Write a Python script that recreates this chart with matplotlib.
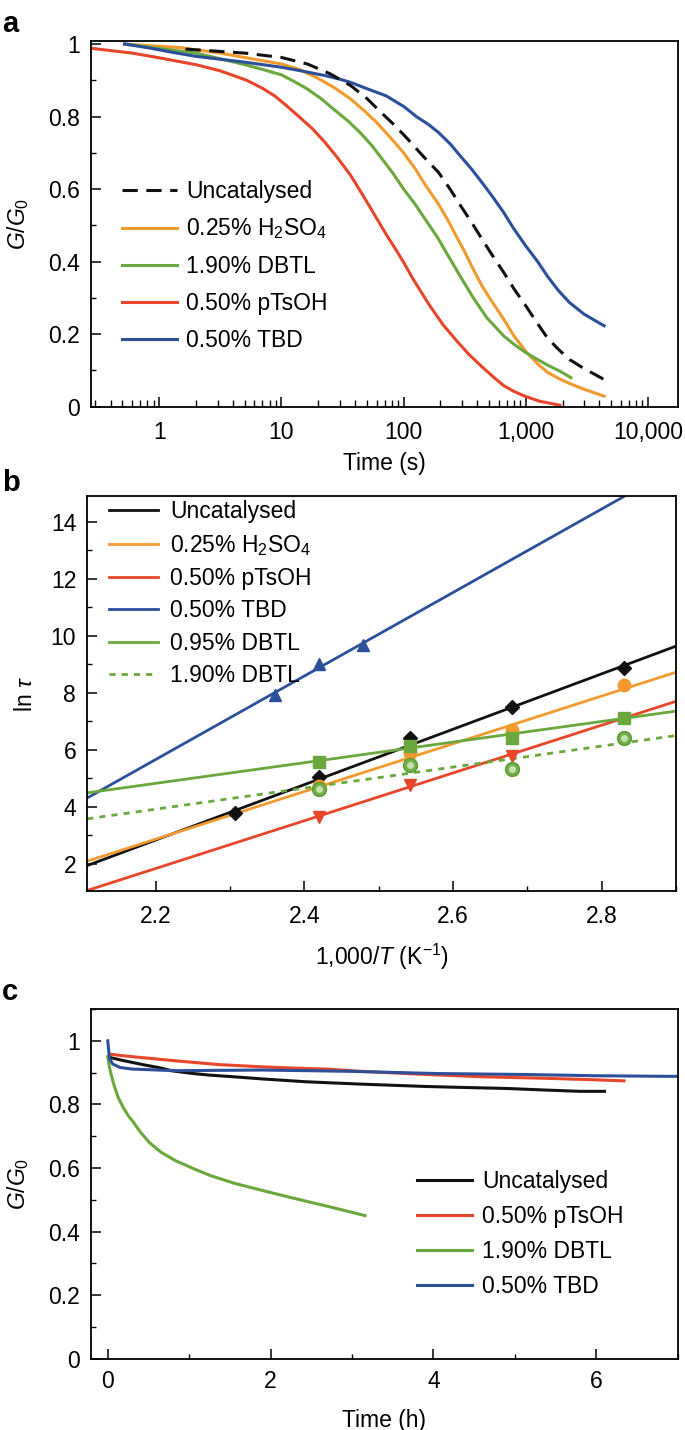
import numpy as np
import matplotlib
matplotlib.use('Agg')
import matplotlib.pyplot as plt
from matplotlib.ticker import FuncFormatter, MultipleLocator, LogLocator

plt.rcParams['font.family'] = ['Liberation Sans', 'DejaVu Sans']
plt.rcParams['mathtext.fontset'] = 'custom'
plt.rcParams['mathtext.rm'] = 'Liberation Sans'
plt.rcParams['mathtext.it'] = 'Liberation Sans:italic'
plt.rcParams['font.size'] = 16.5

# ---------------- panel a: G/G0 vs time (log) ----------------
a_unc_t = [1.64, 5, 10, 16.3, 25, 37, 50, 66, 85, 108, 145, 193, 240, 290, 360, 438, 540, 660, 800, 1000, 1230, 1500, 1850, 2280, 3000, 4370]
a_unc_g = [0.986, 0.975, 0.963, 0.945, 0.918, 0.885, 0.85, 0.81, 0.775, 0.738, 0.69, 0.646, 0.6, 0.556, 0.508, 0.462, 0.414, 0.37, 0.325, 0.278, 0.232, 0.19, 0.158, 0.13, 0.105, 0.075]

a_h2so4_t = [0.52, 1.5, 3.16, 6, 10, 14, 19.3, 27, 37, 48, 60, 78, 100, 125, 150, 190, 228, 270, 316, 370, 438, 540, 660, 800, 1000, 1250, 1500, 1850, 2280, 3000, 4370]
a_h2so4_g = [1.0, 0.99, 0.975, 0.958, 0.945, 0.93, 0.908, 0.88, 0.848, 0.815, 0.784, 0.742, 0.70, 0.655, 0.612, 0.562, 0.517, 0.47, 0.427, 0.38, 0.333, 0.285, 0.241, 0.195, 0.152, 0.118, 0.095, 0.078, 0.064, 0.048, 0.029]

a_dbtl_t = [0.52, 2, 4.77, 7, 10, 13, 16.3, 21, 26.8, 35, 44, 55, 66, 82, 100, 125, 150, 190, 228, 290, 372, 480, 660, 800, 1000, 1250, 1500, 1900, 2340]
a_dbtl_g = [1.0, 0.975, 0.945, 0.93, 0.915, 0.895, 0.876, 0.85, 0.82, 0.788, 0.756, 0.72, 0.685, 0.643, 0.60, 0.557, 0.517, 0.466, 0.42, 0.36, 0.3, 0.245, 0.195, 0.172, 0.149, 0.13, 0.115, 0.098, 0.08]

a_ptsoh_t = [0.28, 0.6, 1, 2, 3.16, 5.2, 7, 8.8, 11, 13.9, 18, 22.7, 29, 37, 47, 60, 72, 85, 100, 118, 140, 164, 210, 268, 340, 438, 550, 660, 800, 1000, 1300, 1900]
a_ptsoh_g = [0.988, 0.975, 0.962, 0.943, 0.926, 0.9, 0.878, 0.857, 0.83, 0.80, 0.766, 0.729, 0.685, 0.637, 0.58, 0.52, 0.475, 0.437, 0.398, 0.355, 0.315, 0.278, 0.226, 0.184, 0.145, 0.11, 0.08, 0.058, 0.042, 0.028, 0.015, 0.004]

a_tbd_t = [0.52, 0.8, 1.39, 2, 3.16, 5, 10, 15, 22.7, 30, 37, 50, 72, 100, 127, 160, 193, 240, 290, 360, 438, 540, 660, 800, 1000, 1250, 1500, 1850, 2280, 3000, 4370]
a_tbd_g = [1.0, 0.99, 0.975, 0.966, 0.958, 0.95, 0.936, 0.925, 0.913, 0.903, 0.894, 0.877, 0.857, 0.828, 0.80, 0.778, 0.756, 0.725, 0.692, 0.655, 0.618, 0.577, 0.535, 0.49, 0.443, 0.4, 0.36, 0.32, 0.287, 0.255, 0.223]

# ---------------- panel b: ln tau vs 1000/T ----------------
b_unc_x = [2.307, 2.42, 2.542, 2.68, 2.83]
b_unc_y = [3.78, 5.03, 6.41, 7.49, 8.87]
b_h2so4_x = [2.42, 2.542, 2.68, 2.83]
b_h2so4_y = [4.72, 5.88, 6.70, 8.26]
b_ptsoh_x = [2.42, 2.542, 2.68]
b_ptsoh_y = [3.64, 4.74, 5.77]
b_tbd_x = [2.36, 2.42, 2.479]
b_tbd_y = [7.93, 9.0, 9.66]
b_dbtl95_x = [2.42, 2.542, 2.68, 2.83]
b_dbtl95_y = [5.57, 6.14, 6.39, 7.12]
b_dbtl190_x = [2.42, 2.542, 2.68, 2.83]
b_dbtl190_y = [4.62, 5.47, 5.32, 6.41]

# linear fits (slope, intercept) for each series
fit_slope = [9.72, 8.37, 8.38, 14.65, 3.62, 3.69]
fit_intercept = [-18.56, -15.56, -16.61, -26.58, -3.15, -4.21]

# ---------------- panel c: stress relaxation in hours ----------------
c_unc_t = [0.02, 0.15, 0.3, 0.45, 0.62, 0.8, 1.05, 1.25, 1.48, 1.9, 2.44, 3.08, 3.5, 3.94, 4.4, 4.9, 5.38, 5.8, 6.1]
c_unc_g = [0.948, 0.94, 0.932, 0.924, 0.916, 0.905, 0.897, 0.892, 0.888, 0.88, 0.871, 0.864, 0.86, 0.856, 0.853, 0.85, 0.845, 0.841, 0.841]
c_ptsoh_t = [0.02, 0.15, 0.3, 0.55, 0.83, 1.1, 1.37, 1.9, 2.3, 2.7, 3.1, 3.5, 4.0, 4.58, 5.38, 5.9, 6.34]
c_ptsoh_g = [0.958, 0.954, 0.95, 0.944, 0.937, 0.931, 0.925, 0.918, 0.914, 0.911, 0.904, 0.899, 0.893, 0.887, 0.882, 0.878, 0.874]
c_dbtl_t = [0.0, 0.015, 0.03, 0.055, 0.086, 0.13, 0.19, 0.25, 0.3, 0.4, 0.51, 0.65, 0.83, 1.05, 1.26, 1.55, 1.9, 2.2, 2.44, 2.8, 3.16]
c_dbtl_g = [0.95, 0.925, 0.906, 0.88, 0.853, 0.82, 0.79, 0.765, 0.749, 0.713, 0.68, 0.65, 0.623, 0.598, 0.576, 0.552, 0.529, 0.51, 0.495, 0.473, 0.45]
c_tbd_t = [0.0, 0.02, 0.06, 0.15, 0.3, 0.83, 1.9, 2.97, 4.04, 5.1, 6.0, 7.0]
c_tbd_g = [1.0, 0.945, 0.927, 0.916, 0.911, 0.906, 0.908, 0.904, 0.897, 0.894, 0.89, 0.888]

BLACK = '#111111'
ORANGE = '#f29a2e'
GREEN = '#6aa83e'
RED = '#e8462a'
BLUE = '#2b4f99'


def style_axes(ax):
    for s in ax.spines.values():
        s.set_linewidth(1.3)
    ax.tick_params(which='major', direction='in', length=7, width=1.1, pad=8)
    ax.tick_params(which='minor', direction='in', length=3.5, width=1.0)
    ax.tick_params(top=False, right=False)


def num_fmt(v, pos):
    if v >= 1000:
        return '{:,.0f}'.format(v)
    return '{:g}'.format(v)


fig = plt.figure(figsize=(6.85, 14.30), dpi=100)

# ---- a ----
ax1 = fig.add_axes([0.1324, 0.7156, 0.857, 0.2559])
ax1.plot(a_unc_t, a_unc_g, color=BLACK, lw=2.2, ls=(0, (5, 2.8)), label='Uncatalysed', zorder=3)
ax1.plot(a_h2so4_t, a_h2so4_g, color=ORANGE, lw=2.2, label='0.25% H$_2$SO$_4$')
ax1.plot(a_dbtl_t, a_dbtl_g, color=GREEN, lw=2.2, label='1.90% DBTL')
ax1.plot(a_ptsoh_t, a_ptsoh_g, color=RED, lw=2.2, label='0.50% pTsOH')
ax1.plot(a_tbd_t, a_tbd_g, color=BLUE, lw=2.2, label='0.50% TBD')
ax1.set_xscale('log')
ax1.set_xlim(0.275, 17500)
ax1.set_ylim(0, 1.009)
ax1.xaxis.set_major_locator(LogLocator(base=10, numticks=10))
ax1.xaxis.set_minor_locator(LogLocator(base=10, subs=np.arange(2, 10), numticks=20))
ax1.xaxis.set_major_formatter(FuncFormatter(num_fmt))
ax1.yaxis.set_major_locator(MultipleLocator(0.2))
ax1.yaxis.set_minor_locator(MultipleLocator(0.1))
ax1.yaxis.set_major_formatter(FuncFormatter(num_fmt))
style_axes(ax1)
ax1.tick_params(axis='x', which='minor', length=5)
ax1.tick_params(axis='x', which='major', pad=10)
ax1.set_xlabel('Time (s)', labelpad=6)
ax1.set_ylabel('$G$/$G_0$', labelpad=12)
ax1.legend(loc='upper left', bbox_to_anchor=(0.038, 0.645), frameon=False,
           handlelength=2.4, handletextpad=0.4, labelspacing=0.6, borderaxespad=0)

# ---- b ----
ax2 = fig.add_axes([0.1274, 0.3766, 0.8594, 0.2766])
xlim_b = np.array([2.108, 2.9])
labels_b = ['Uncatalysed', '0.25% H$_2$SO$_4$', '0.50% pTsOH', '0.50% TBD', '0.95% DBTL', '1.90% DBTL']
colors_b = [BLACK, ORANGE, RED, BLUE, GREEN, GREEN]
styles_b = ['-', '-', '-', '-', '-', (0, (2.2, 2.2))]
for k in range(6):
    ax2.plot(xlim_b, fit_slope[k] * xlim_b + fit_intercept[k], color=colors_b[k],
             lw=2.0, ls=styles_b[k], label=labels_b[k])
ax2.plot(b_unc_x, b_unc_y, 'D', color=BLACK, ms=7, zorder=4)
ax2.plot(b_h2so4_x, b_h2so4_y, 'o', color=ORANGE, ms=9, zorder=4)
ax2.plot(b_ptsoh_x, b_ptsoh_y, 'v', color=RED, ms=8, zorder=4)
ax2.plot(b_tbd_x, b_tbd_y, '^', color=BLUE, ms=8, zorder=4)
ax2.plot(b_dbtl95_x, b_dbtl95_y, 's', color=GREEN, ms=9, zorder=5)
ax2.plot(b_dbtl190_x, b_dbtl190_y, 'o', mfc='#74b04a', mec='#5b9a32', mew=1.0, ms=10, zorder=6)
ax2.plot(b_dbtl190_x, b_dbtl190_y, 'o', color='#c4e3b0', ms=4, zorder=7)
ax2.set_xlim(*xlim_b)
ax2.set_ylim(1.02, 14.9)
ax2.xaxis.set_major_locator(MultipleLocator(0.2))
ax2.xaxis.set_minor_locator(MultipleLocator(0.1))
ax2.yaxis.set_major_locator(MultipleLocator(2))
ax2.yaxis.set_minor_locator(MultipleLocator(1))
ax2.xaxis.set_major_formatter(FuncFormatter(lambda v, p: '{:.1f}'.format(v)))
style_axes(ax2)
ax2.tick_params(axis='x', which='major', pad=10)
ax2.set_xlabel('1,000/$T$ (K$^{-1}$)', labelpad=10)
ax2.set_ylabel(r'ln $\tau$', labelpad=10)
ax2.legend(loc='upper left', bbox_to_anchor=(0.022, 1.012), frameon=False,
           handlelength=2.1, handletextpad=0.55, labelspacing=0.41, borderaxespad=0)

# ---- c ----
ax3 = fig.add_axes([0.1324, 0.0499, 0.857, 0.2445])
ax3.plot(c_unc_t, c_unc_g, color=BLACK, lw=2.2, label='Uncatalysed')
ax3.plot(c_ptsoh_t, c_ptsoh_g, color=RED, lw=2.2, label='0.50% pTsOH')
ax3.plot(c_dbtl_t, c_dbtl_g, color=GREEN, lw=2.2, label='1.90% DBTL')
ax3.plot(c_tbd_t, c_tbd_g, color=BLUE, lw=2.2, label='0.50% TBD')
ax3.set_xlim(-0.21, 7.0)
ax3.set_ylim(0, 1.1)
ax3.xaxis.set_major_locator(MultipleLocator(2))
ax3.xaxis.set_minor_locator(MultipleLocator(1))
ax3.yaxis.set_major_locator(MultipleLocator(0.2))
ax3.yaxis.set_minor_locator(MultipleLocator(0.1))
ax3.yaxis.set_major_formatter(FuncFormatter(num_fmt))
style_axes(ax3)
ax3.set_xlabel('Time (h)', labelpad=12)
ax3.set_ylabel('$G$/$G_0$', labelpad=12)
ax3.legend(loc='upper left', bbox_to_anchor=(0.54, 0.565), frameon=False,
           handlelength=2.4, handletextpad=0.45, labelspacing=0.52, borderaxespad=0)

for lab, yb in [('a', 1 - 32 / 1430), ('b', 1 - 491 / 1430), ('c', 1 - 1000 / 1430)]:
    fig.text(2 / 685, yb, lab, fontsize=21, fontweight='bold', va='baseline', ha='left')

fig.savefig('out.png', dpi=100)
